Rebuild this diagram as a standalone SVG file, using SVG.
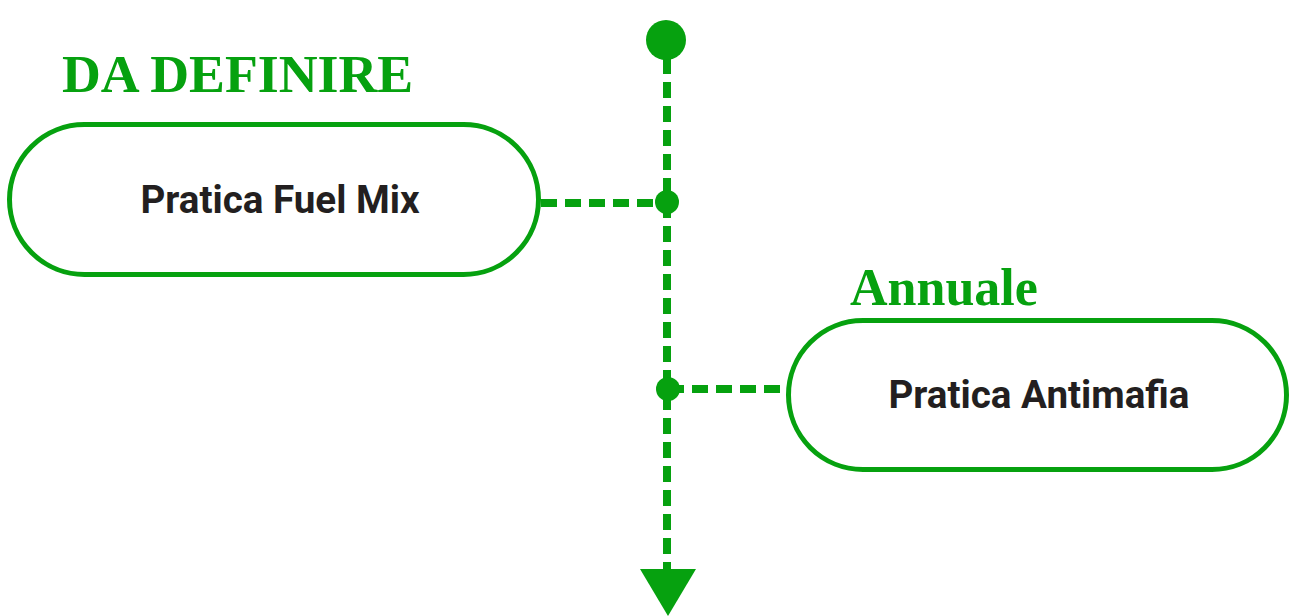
<svg xmlns="http://www.w3.org/2000/svg" width="1290" height="616" viewBox="0 0 1290 616">
<style>
.node{fill:#ffffff;stroke:#06a10f;stroke-width:5}
.ntext{font-family:Roboto,"Liberation Sans",sans-serif;font-weight:bold;font-size:38.6px;fill:#231f20;text-anchor:middle}
.label{font-family:"Liberation Serif","Times New Roman",serif;font-weight:bold;fill:#06a10f}
.dash{stroke:#06a10f;stroke-width:8;stroke-dasharray:16 8;fill:none}
.dot{fill:#06a10f}
</style>
<rect width="1290" height="616" fill="#ffffff"/>
<g id="connectors">
<line class="dash" x1="667" y1="58" x2="667" y2="570"/>
<line class="dash" x1="541" y1="203" x2="667" y2="203"/>
<line class="dash" x1="668" y1="389" x2="787" y2="389"/>
<circle class="dot" cx="666" cy="40" r="20"/>
<circle class="dot" cx="667" cy="202" r="12"/>
<circle class="dot" cx="668" cy="389" r="12"/>
<polygon class="dot" points="640,569 696,569 668,616"/>
</g>
<g id="label-da-definire">
<text class="label" x="62" y="92" font-size="53.8">DA DEFINIRE</text>
</g>
<g id="node-fuel-mix">
<rect class="node" x="9.5" y="124.5" width="529" height="150" rx="75" ry="75"/>
<text class="ntext" x="280" y="213">Pratica Fuel Mix</text>
</g>
<g id="label-annuale">
<text class="label" x="850" y="305" font-size="52">Annuale</text>
</g>
<g id="node-antimafia">
<rect class="node" x="788.5" y="320.5" width="498" height="149" rx="74.5" ry="74.5"/>
<text class="ntext" x="1039" y="408">Pratica Antimafia</text>
</g>
</svg>
